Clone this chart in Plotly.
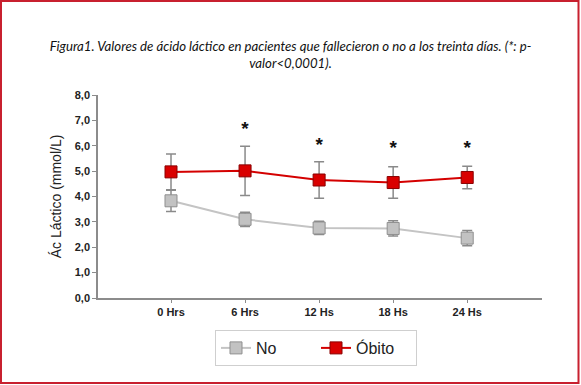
import plotly.graph_objects as go

categories = ["0 Hrs", "6 Hrs", "12 Hs", "18 Hs", "24 Hs"]
no_vals = [3.83, 3.10, 2.76, 2.74, 2.36]
no_err = [0.42, 0.28, 0.26, 0.30, 0.30]
obito_vals = [4.97, 5.01, 4.65, 4.55, 4.75]
obito_err = [0.70, 0.97, 0.72, 0.62, 0.44]
star_cats = ["6 Hrs", "12 Hs", "18 Hs", "24 Hs"]
star_y = [6.62, 5.98, 5.86, 5.86]
y_ticks = [0, 1, 2, 3, 4, 5, 6, 7, 8]
y_ticklabels = ["0,0", "1,0", "2,0", "3,0", "4,0", "5,0", "6,0", "7,0", "8,0"]

xpos = list(range(len(categories)))
star_x = [categories.index(c) for c in star_cats]

fig = go.Figure()
fig.add_trace(go.Scatter(
    x=xpos, y=no_vals, name="No", mode="lines+markers",
    line=dict(color="#c4c4c4", width=2),
    marker=dict(symbol="square", size=12, color="#c2c2c2",
                line=dict(color="#8f8f8f", width=1)),
    error_y=dict(type="data", array=no_err, visible=True,
                 color="#8a8a8a", thickness=1.5, width=5),
))
fig.add_trace(go.Scatter(
    x=xpos, y=obito_vals, name="Óbito", mode="lines+markers",
    line=dict(color="#d40000", width=2),
    marker=dict(symbol="square", size=12, color="#d90000",
                line=dict(color="#8a0000", width=1)),
    error_y=dict(type="data", array=obito_err, visible=True,
                 color="#8a8a8a", thickness=1.5, width=5),
))
fig.add_trace(go.Scatter(
    x=star_x, y=star_y, mode="text", text=["<b>*</b>"] * len(star_x),
    textfont=dict(family="Arial, Liberation Sans", size=19, color="#111"),
    showlegend=False, hoverinfo="skip",
))

# red frame around the whole image (paper coords computed from margins)
L, R, T, B = 98, 39, 95, 87
W, H = 581, 385
pw, ph = W - L - R, H - T - B
def px(x):
    return (x - L) / pw
def py(y):
    return (H - B - y) / ph
fig.add_shape(type="rect", xref="paper", yref="paper",
              x0=px(1), x1=px(578.5), y0=py(1), y1=py(383),
              line=dict(color="#c8202f", width=2), layer="below")

fig.update_layout(
    width=W, height=H,
    margin=dict(l=L, r=R, t=T, b=B),
    paper_bgcolor="white", plot_bgcolor="white",
    title=dict(
        text="<i>Figura1. Valores de ácido láctico en pacientes que fallecieron o no a los treinta días. (*: p-</i><br><i>valor<0,0001).</i>",
        x=0.5, xref="container", xanchor="center",
        y=1 - 51 / H, yanchor="top", yref="container",
        font=dict(family="Lato", size=13.2, color="#111"),
    ),
    xaxis=dict(
        range=[-0.986, 5.01], tickmode="array", tickvals=xpos,
        ticktext=["<b>%s</b>" % c for c in categories],
        showline=True, linecolor="#8c8c8c", linewidth=1.5,
        ticks="outside", ticklen=3, tickcolor="#8c8c8c",
        showgrid=False, zeroline=False,
        tickfont=dict(family="Arial, Liberation Sans", size=11, color="#222"),
    ),
    yaxis=dict(
        range=[0, 8], tickmode="array", tickvals=y_ticks,
        ticktext=["<b>%s</b>" % t for t in y_ticklabels],
        showline=True, linecolor="#8c8c8c", linewidth=1.5,
        ticks="outside", ticklen=4, tickcolor="#8c8c8c",
        showgrid=False, zeroline=False,
        tickfont=dict(family="Arial, Liberation Sans", size=11, color="#222"),
        title=dict(text="Ác Láctico (mmol/L)", standoff=10,
                   font=dict(family="Arial, Liberation Sans", size=14, color="#222")),
    ),
    legend=dict(
        orientation="h", x=px(316), xanchor="center", y=py(330), yanchor="top",
        bordercolor="#cfcfcf", borderwidth=1, bgcolor="white",
        font=dict(family="Arial, Liberation Sans", size=16, color="#222"),
        entrywidth=55, entrywidthmode="pixels",
        itemwidth=30,
    ),
    showlegend=True,
)

fig.write_html("out.html", config={"displayModeBar": False},
               post_script="document.body.style.margin='0';document.body.style.padding='0';")
